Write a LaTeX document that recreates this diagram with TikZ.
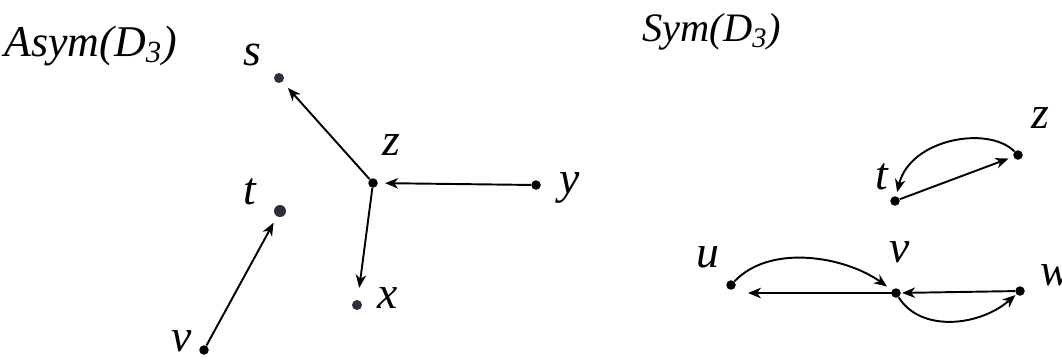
\documentclass[tikz,border=0pt]{standalone}
\usepackage{fontspec}
\setmainfont{Liberation Serif}
\usetikzlibrary{arrows.meta}
\definecolor{dotgray}{HTML}{2E2E3E}

\begin{document}
\begin{tikzpicture}[
    x=0.02cm, y=-0.02cm, % one unit per pixel, (0,0) at top left
    dot/.style={circle, fill=black, inner sep=0pt, minimum size=1.9mm},
    gdot/.style={circle, fill=dotgray, inner sep=0pt, minimum size=2mm},
    lbl/.style={font=\fontsize{26}{28}\selectfont\itshape, inner sep=0pt},
    ttl/.style={anchor=base west, inner sep=0pt},
    arr/.style={-{Stealth[length=2.6mm, width=2.1mm, inset=0.8mm]}, line width=1.1pt}
]
\useasboundingbox (0,0) rectangle (1062,360);

% left graph
\node[ttl, font=\fontsize{25}{28}\selectfont\itshape] (asym) at (4,56) {Asym(D\textsubscript{3})};
\foreach \n/\x/\y in {z/373/183, y/536/185, v/204/350}
    \node[dot] (a\n) at (\x,\y) {};
\node[gdot] (as) at (279,78) {};
\node[gdot, minimum size=2.4mm] (at) at (280,211) {};
\node[gdot] (ax) at (357,305) {};
\foreach \n/\x/\y in {s/252/55, z/391/145, t/250/192, x/388/298, v/182/341, y/570/188}
    \node[lbl] (la\n) at (\x,\y) {\n};

\draw[arr, shorten >=1.6mm] (az) -- (as);
\draw[arr, shorten >=1.4mm] (ay) -- (az);
\draw[arr, shorten >=2.4mm] (az) -- (ax);
\draw[arr, shorten >=1.4mm] (av) -- (at);

% right graph
\node[ttl, font=\fontsize{23}{26}\selectfont\itshape] (sym) at (642,41) {Sym(D\textsubscript{3})};
\foreach \n/\x/\y in {z/1018/155, t/895/201, u/731/285, v/896/293, w/1020/291}
    \node[dot] (b\n) at (\x,\y) {};
\foreach \n/\x/\y in {z/1040/118, t/882/177, u/708/257, v/900/252, w/1056/275}
    \node[lbl] (lb\n) at (\x,\y) {\n};

\draw[arr, shorten >=1mm] (bt) -- (bz);
\draw[arr, shorten >=0.8mm] (bz) .. controls +(-30,-30) and +(15,-62) .. (bt);
\draw[arr, shorten >=1.2mm] (bu) .. controls +(40,-42) and +(-50,-36) .. (bv);
\draw[arr, shorten >=3.4mm] (bv.center) -- (bv -| bu);
\draw[arr, shorten >=0.2mm] (bw) -- (bv);
\draw[arr, shorten >=0.2mm] (bv) .. controls +(25,40) and +(-40,35) .. (bw);
\end{tikzpicture}
\end{document}
